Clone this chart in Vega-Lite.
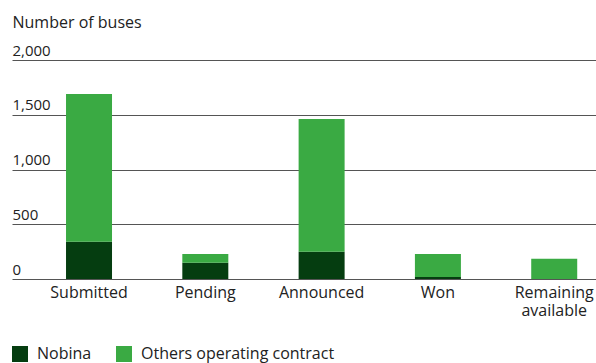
{
  "$schema": "https://vega.github.io/schema/vega-lite/v6.json",
  "width": 584,
  "height": 219,
  "autosize": {"type": "none"},
  "padding": {"left": 12, "top": 60, "right": 0, "bottom": 84},
  "background": "white",
  "config": {
    "view": {"stroke": null},
    "font": "Open Sans",
    "text": {"color": "#222222"}
  },
  "data": {
    "values": [
      {"status": "Submitted", "series": "Nobina", "buses": 340},
      {"status": "Submitted", "series": "Others operating contract", "buses": 1350},
      {"status": "Pending", "series": "Nobina", "buses": 148},
      {"status": "Pending", "series": "Others operating contract", "buses": 80},
      {"status": "Announced", "series": "Nobina", "buses": 250},
      {"status": "Announced", "series": "Others operating contract", "buses": 1212},
      {"status": "Won", "series": "Nobina", "buses": 18},
      {"status": "Won", "series": "Others operating contract", "buses": 210},
      {"status": "Remaining available", "series": "Nobina", "buses": 0},
      {"status": "Remaining available", "series": "Others operating contract", "buses": 184}
    ]
  },
  "mark": {"type": "bar"},
  "encoding": {
    "x": {
      "field": "status",
      "type": "nominal",
      "sort": null,
      "scale": {"paddingInner": 0.6045, "paddingOuter": 0.313, "align": 0.742},
      "axis": {
        "title": null,
        "labelAngle": 0,
        "domain": false,
        "ticks": false,
        "labelPadding": 5,
        "labelFontSize": 16,
        "labelColor": "#222222",
        "labelFont": "Open Sans",
        "labelLineHeight": 18,
        "labelExpr": "datum.label == 'Remaining available' ? ['Remaining', 'available'] : datum.label"
      }
    },
    "y": {
      "field": "buses",
      "type": "quantitative",
      "stack": "zero",
      "scale": {"domain": [0, 2000], "nice": false},
      "axis": {
        "values": [0, 500, 1000, 1500, 2000],
        "format": ",d",
        "domain": false,
        "ticks": false,
        "tickSize": 0,
        "grid": true,
        "gridColor": "#555555",
        "gridWidth": 1,
        "labelAlign": "left",
        "labelBaseline": "alphabetic",
        "labelPadding": 0,
        "labelOffset": -5,
        "labelFontSize": 15,
        "labelColor": "#222222",
        "labelFont": "Open Sans",
        "title": "Number of buses",
        "titleAngle": 0,
        "titleAlign": "left",
        "titleBaseline": "alphabetic",
        "titleX": 0,
        "titleY": -33,
        "titleFontSize": 16,
        "titleFontWeight": "normal",
        "titleColor": "#222222",
        "titleFont": "Open Sans"
      }
    },
    "color": {
      "field": "series",
      "type": "nominal",
      "scale": {"domain": ["Nobina", "Others operating contract"], "range": ["#053d10", "#3aaa43"]},
      "legend": {
        "title": null,
        "orient": "none",
        "legendX": 0,
        "legendY": 286,
        "direction": "horizontal",
        "symbolType": "square",
        "symbolSize": 256,
        "symbolStrokeWidth": 0,
        "labelFontSize": 16,
        "labelColor": "#222222",
        "labelFont": "Open Sans",
        "labelOffset": 9,
        "labelLimit": 400,
        "columnPadding": 24,
        "padding": 0
      }
    },
    "order": {"field": "series", "sort": "ascending"}
  }
}
